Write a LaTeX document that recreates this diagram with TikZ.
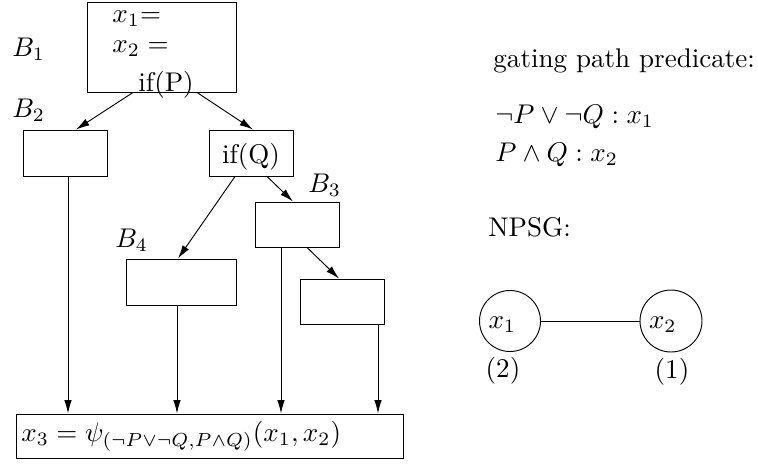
\documentclass[tikz,border=0pt]{standalone}
\usetikzlibrary{arrows.meta,calc}
\newcommand{\pu}{0.37pt}
\tikzset{
  blk/.style={draw, inner sep=0pt},
  lbl/.style={inner sep=0pt},
  arr/.style={-{Latex[length=5pt,width=2.8pt]}},
  vtx/.style={draw, circle, inner sep=0pt},
}
\begin{document}
\begin{tikzpicture}[x=\pu, y=-\pu, line width=0.35pt]
    \useasboundingbox (0,0) rectangle (758,463);
    % left: blocks of the program
    \node[blk, minimum width=149*\pu, minimum height=90*\pu] (b1) at (161.5,47) {};
    \node[lbl, anchor=base west] (s1) at (112,22) {$x_1$=};
    \node[lbl, anchor=base west] (s2) at (112,52) {$x_2 =$};
    \node[lbl, anchor=base west] (ifp) at (138,91) {if(P)};
    \node[lbl, anchor=base west] (l1) at (12,56) {$B_1$};
    \node[blk, minimum width=84*\pu, minimum height=46*\pu] (b2) at (65,153) {};
    \node[lbl, anchor=base west] (l2) at (12,117) {$B_2$};
    \node[blk, minimum width=84*\pu, minimum height=46*\pu] (bq) at (251,153) {};
    \node[lbl] (ifq) at (251,157) {if(Q)};
    \node[blk, minimum width=84*\pu, minimum height=45*\pu] (b3) at (297,224.5) {};
    \node[lbl, anchor=base west] (l3) at (308,192) {$B_3$};
    \node[blk, minimum width=110*\pu, minimum height=46*\pu] (b4) at (181,282) {};
    \node[lbl, anchor=base west] (l4) at (115,247) {$B_4$};
    \node[blk, minimum width=84*\pu, minimum height=45*\pu] (b5) at (342,301.5) {};
    \node[blk, minimum width=387*\pu, minimum height=44*\pu] (b6) at (209.5,436) {};
    \node[lbl, anchor=west, inner sep=2pt] (phi) at (b6.west) {$x_3 = \psi_{(\neg P\vee\neg Q,P\wedge Q)}(x_1,x_2)$};
    % edges
    \draw[arr] ($(b1.south)+(-28.5,0)$) -- ($(b2.north)+(11,0)$);
    \draw[arr] ($(b1.south)+(35.5,0)$) -- ($(bq.north)+(2,0)$);
    \draw[arr] ($(bq.south)+(-16,0)$) -- ($(b4.north)+(-3,0)$);
    \draw[arr] ($(bq.south)+(16,0)$) -- ($(b3.north)+(-4,0)$);
    \draw[arr] ($(b3.south)+(10,0)$) -- ($(b5.north)+(-3,0)$);
    \foreach \n/\dx in {b2/3, b4/-4, b3/-16, b5/36}
        \draw[arr] ($(\n.south)+(\dx,0)$) coordinate (j) -- (j |- b6.north);
    % right: predicates and NPSG
    \node[lbl, anchor=base west] (gp) at (493,67) {gating path predicate:};
    \node[lbl, anchor=base west] (p1) at (495,123) {$\neg P \vee \neg Q : x_1$};
    \node[lbl, anchor=base west] (p2) at (495,161) {$P \wedge Q : x_2$};
    \node[lbl, anchor=base west] (np) at (488,236) {NPSG:};
    \node[vtx, minimum size=61*\pu] (v1) at (510,321) {};
    \node[vtx, minimum size=62*\pu] (v2) at (671,321) {};
    \draw (v1) -- (v2);
    \node[lbl, anchor=base west] (t1) at ($(v1.west)+(9,7)$) {$x_1$};
    \node[lbl, anchor=base west] (t2) at ($(v2.west)+(9,7)$) {$x_2$};
    \node[lbl, anchor=base] (c1) at ($(v1.south)+(-7,26)$) {(2)};
    \node[lbl, anchor=base] (c2) at ($(v2.south)+(1,26)$) {(1)};
\end{tikzpicture}
\end{document}
